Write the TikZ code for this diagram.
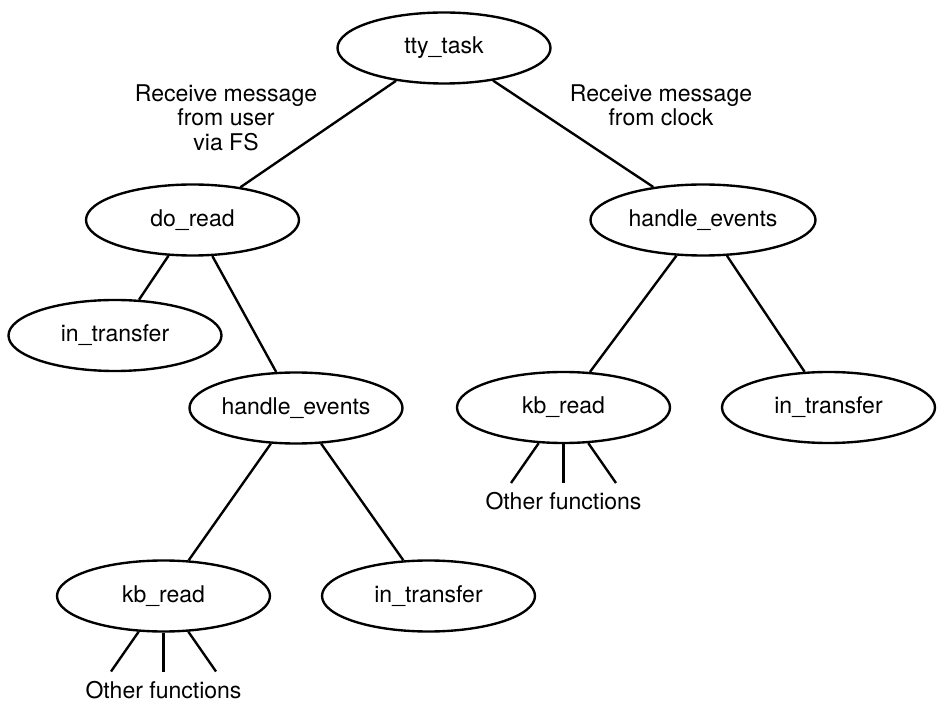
\documentclass[tikz,border=0pt]{standalone}
\usepackage{fontspec}
\setmainfont{TeX Gyre Heros}
\usetikzlibrary{positioning,shapes.geometric}
\newcommand{\lblfont}{\fontsize{13.1}{13.9}\selectfont}
\tikzset{
  fnode/.style={ellipse, draw, line width=1.35pt, inner sep=0pt,
    minimum width=4.26cm, minimum height=1.42cm, font=\lblfont},
  mlab/.style={align=center, font=\lblfont},
  lnk/.style={line width=1.35pt},
}

\begin{document}
\begin{tikzpicture}
\useasboundingbox (0,0) rectangle (18.96,14.34);
% call tree
\node[fnode] (tty) at (8.88,13.38) {tty\_task};
\node[fnode] (doread) at (3.85,9.94) {do\_read};
\node[fnode, minimum width=4.5cm] (heR) at (14.06,9.94) {handle\_events};
\node[fnode] (inL) at (2.30,7.63) {in\_transfer};
\node[fnode] (heL) at (5.92,6.18) {handle\_events};
\node[fnode] (kbR) at (11.27,6.19) {kb\_read};
\node[fnode] (inR) at (16.57,6.19) {in\_transfer};
\node[fnode] (kbL) at (3.27,2.42) {kb\_read};
\node[fnode] (inB) at (8.57,2.42) {in\_transfer};
\node[mlab] (msgL) at (4.52,11.99) {Receive message\\from user\\via FS};
\node[mlab] (msgR) at (13.22,12.24) {Receive message\\from clock};
\draw[lnk] (tty) -- (doread);
\draw[lnk] (tty) -- (heR);
\draw[lnk] (doread) -- (inL);
\draw[lnk] (doread) -- (heL);
\draw[lnk] (heR) -- (kbR);
\draw[lnk] (heR) -- (inR);
\draw[lnk] (heL) -- (kbL);
\draw[lnk] (heL) -- (inB);
% fan of other callees
\foreach \kb in {kbR, kbL}{
  \foreach \n/\dx in {a/-1.05, b/0, c/1.05}{
    \coordinate (\kb-\n) at ([shift={(\dx,-1.51)}]\kb.center);
    \draw[lnk] (\kb) -- (\kb-\n);}
  \node[mlab, below=2pt of \kb-b] (\kb-oth) {Other functions};
}
\end{tikzpicture}
\end{document}
